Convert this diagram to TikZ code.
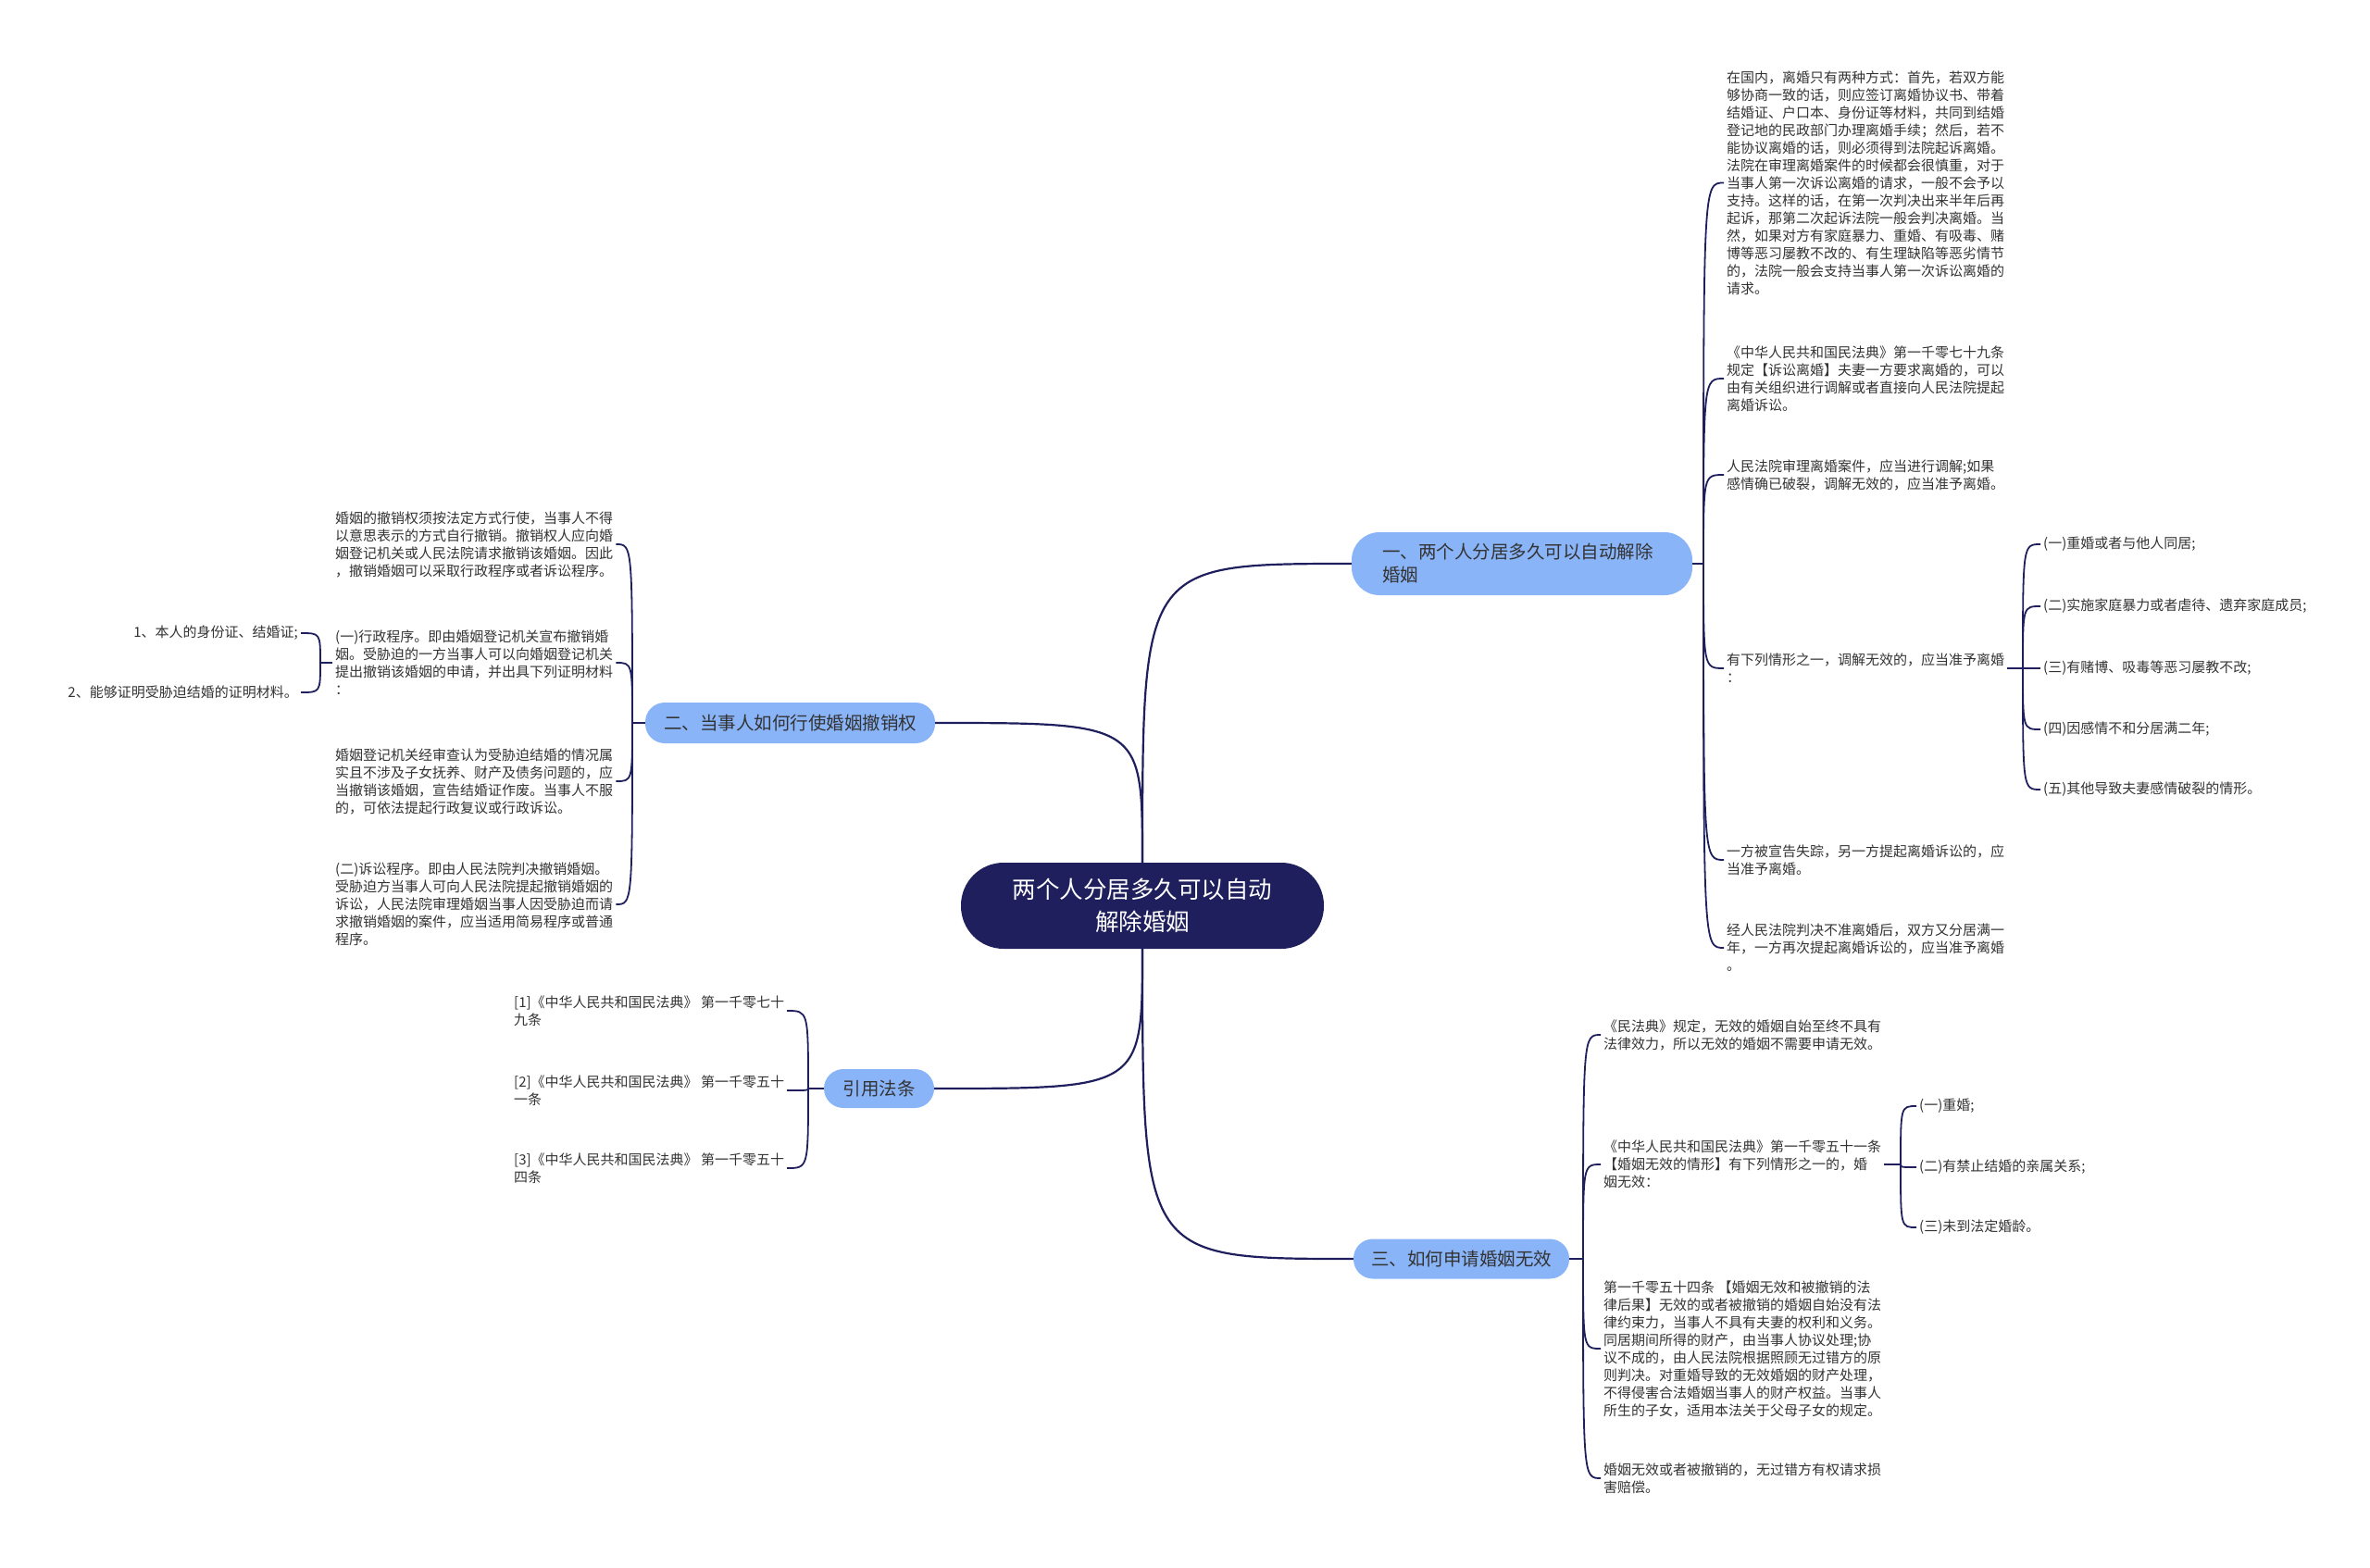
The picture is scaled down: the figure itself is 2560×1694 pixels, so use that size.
\documentclass[tikz,border=0pt]{standalone}
\usepackage{fontspec}
\setmainfont{Noto Sans CJK SC}
\usepackage{tikz}
\usetikzlibrary{positioning,calc}
\definecolor{navy}{RGB}{30,31,92}
\definecolor{topicblue}{RGB}{138,180,248}
\definecolor{leafgray}{RGB}{51,51,51}

\begin{document}
\begin{tikzpicture}[x=1pt,y=-1pt,
  rootbox/.style={fill=navy,rounded corners=46pt,minimum width=392pt,minimum height=93pt,
    text=white,align=center,inner sep=0pt,font=\fontsize{25.5}{35}\selectfont},
  topic/.style={fill=topicblue,rounded corners=21pt,minimum height=44pt,text=black!80,
    inner sep=0pt,font=\fontsize{19.5}{25}\selectfont},
  leaf/.style={text=leafgray,align=left,inner xsep=3pt,inner ysep=2pt,
    font=\fontsize{15}{19}\selectfont},
  link/.style={navy,line width=2.2pt},
  twig/.style={navy,line width=1.8pt}]
 \useasboundingbox (0,0) rectangle (2560,1694);
 % centre topic and the four branches
 \node[rootbox] (root) at (1234,978.5) {两个人分居多久可以自动\\解除婚姻};
 \node[topic,minimum width=368pt,minimum height=68pt,text width=302pt,inner xsep=33pt,
   align=left,rounded corners=30pt] (b1) at (1644,609) {一、两个人分居多久可以自动解除\\婚姻};
 \node[topic,minimum width=313pt] (b2) at (853.5,781) {二、当事人如何行使婚姻撤销权};
 \node[topic,minimum width=119pt,minimum height=42pt] (b3) at (949.5,1176) {引用法条};
 \node[topic,minimum width=233pt,minimum height=43pt] (b4) at (1578.5,1360) {三、如何申请婚姻无效};
 \draw[link] (root.north) .. controls (root.north |- b1.west) .. (b1.west);
 \draw[link] (root.north) .. controls (root.north |- b2.east) .. (b2.east);
 \draw[link] (root.south) .. controls (root.south |- b3.east) .. (b3.east);
 \draw[link] (root.south) .. controls (root.south |- b4.west) .. (b4.west);

 % branch one: the right upper side
 \node[leaf,anchor=west] (c11) at (1862,197.5) {在国内，离婚只有两种方式：首先，若双方能\\够协商一致的话，则应签订离婚协议书、带着\\结婚证、户口本、身份证等材料，共同到结婚\\登记地的民政部门办理离婚手续；然后，若不\\能协议离婚的话，则必须得到法院起诉离婚。\\法院在审理离婚案件的时候都会很慎重，对于\\当事人第一次诉讼离婚的请求，一般不会予以\\支持。这样的话，在第一次判决出来半年后再\\起诉，那第二次起诉法院一般会判决离婚。当\\然，如果对方有家庭暴力、重婚、有吸毒、赌\\博等恶习屡教不改的、有生理缺陷等恶劣情节\\的，法院一般会支持当事人第一次诉讼离婚的\\请求。};
 \node[leaf,anchor=west] (c12) at (1862,409) {《中华人民共和国民法典》第一千零七十九条\\规定【诉讼离婚】夫妻一方要求离婚的，可以\\由有关组织进行调解或者直接向人民法院提起\\离婚诉讼。};
 \node[leaf,anchor=west] (c13) at (1862,513) {人民法院审理离婚案件，应当进行调解;如果\\感情确已破裂，调解无效的，应当准予离婚。};
 \node[leaf,anchor=west] (c14) at (1862,722) {有下列情形之一，调解无效的，应当准予离婚\\：};
 \node[leaf,anchor=west] (c15) at (1862,929) {一方被宣告失踪，另一方提起离婚诉讼的，应\\当准予离婚。};
 \node[leaf,anchor=west] (c16) at (1862,1024) {经人民法院判决不准离婚后，双方又分居满一\\年，一方再次提起离婚诉讼的，应当准予离婚\\。};
 \coordinate (j1) at (1840,609);
 \draw[twig] (b1.east) -- (j1);
 \draw[twig] (j1) .. controls (j1 |- c11.west) .. (c11.west);
 \draw[twig] (j1) .. controls (j1 |- c12.west) .. (c12.west);
 \draw[twig] (j1) .. controls (j1 |- c13.west) .. (c13.west);
 \draw[twig] (j1) .. controls (j1 |- c14.west) .. (c14.west);
 \draw[twig] (j1) .. controls (j1 |- c15.west) .. (c15.west);
 \draw[twig] (j1) .. controls (j1 |- c16.west) .. (c16.west);
 % the five cases
 \node[leaf,anchor=west] (g11) at (2204,588) {(一)重婚或者与他人同居;};
 \node[leaf,anchor=west] (g12) at (2204,655) {(二)实施家庭暴力或者虐待、遗弃家庭成员;};
 \node[leaf,anchor=west] (g13) at (2204,722) {(三)有赌博、吸毒等恶习屡教不改;};
 \node[leaf,anchor=west] (g14) at (2204,788) {(四)因感情不和分居满二年;};
 \node[leaf,anchor=west] (g15) at (2204,853) {(五)其他导致夫妻感情破裂的情形。};
 \coordinate (j14) at (2185,722);
 \draw[twig] (c14.east) -- (j14);
 \draw[twig] (j14) .. controls (j14 |- g11.west) .. (g11.west);
 \draw[twig] (j14) .. controls (j14 |- g12.west) .. (g12.west);
 \draw[twig] (j14) -- (g13.west);
 \draw[twig] (j14) .. controls (j14 |- g14.west) .. (g14.west);
 \draw[twig] (j14) .. controls (j14 |- g15.west) .. (g15.west);

 % branch two: the left side
 \node[leaf,anchor=west] (c21) at (359,588) {婚姻的撤销权须按法定方式行使，当事人不得\\以意思表示的方式自行撤销。撤销权人应向婚\\姻登记机关或人民法院请求撤销该婚姻。因此\\，撤销婚姻可以采取行政程序或者诉讼程序。};
 \node[leaf,anchor=west] (c22) at (359,716) {(一)行政程序。即由婚姻登记机关宣布撤销婚\\姻。受胁迫的一方当事人可以向婚姻登记机关\\提出撤销该婚姻的申请，并出具下列证明材料\\：};
 \node[leaf,anchor=west] (c23) at (359,844) {婚姻登记机关经审查认为受胁迫结婚的情况属\\实且不涉及子女抚养、财产及债务问题的，应\\当撤销该婚姻，宣告结婚证作废。当事人不服\\的，可依法提起行政复议或行政诉讼。};
 \node[leaf,anchor=west] (c24) at (359,977) {(二)诉讼程序。即由人民法院判决撤销婚姻。\\受胁迫方当事人可向人民法院提起撤销婚姻的\\诉讼，人民法院审理婚姻当事人因受胁迫而请\\求撤销婚姻的案件，应当适用简易程序或普通\\程序。};
 \coordinate (j2) at (683,781);
 \draw[twig] (b2.west) -- (j2);
 \draw[twig] (j2) .. controls (j2 |- c21.east) .. (c21.east);
 \draw[twig] (j2) .. controls (j2 |- c22.east) .. (c22.east);
 \draw[twig] (j2) .. controls (j2 |- c23.east) .. (c23.east);
 \draw[twig] (j2) .. controls (j2 |- c24.east) .. (c24.east);
 % proofs to hand in
 \node[leaf,anchor=east,align=right] (g21) at (325,684) {1、本人的身份证、结婚证;};
 \node[leaf,anchor=east,align=right] (g22) at (325,748) {2、能够证明受胁迫结婚的证明材料。};
 \coordinate (j22) at (346,716);
 \draw[twig] (c22.west) -- (j22);
 \draw[twig] (j22) .. controls (j22 |- g21.east) .. (g21.east);
 \draw[twig] (j22) .. controls (j22 |- g22.east) .. (g22.east);

 % branch three: cited articles
 \node[leaf,anchor=west] (c31) at (552,1092) {[1]《中华人民共和国民法典》 第一千零七十\\九条};
 \node[leaf,anchor=west] (c32) at (552,1178) {[2]《中华人民共和国民法典》 第一千零五十\\一条};
 \node[leaf,anchor=west] (c33) at (552,1262) {[3]《中华人民共和国民法典》 第一千零五十\\四条};
 \coordinate (j3) at (873,1176);
 \draw[twig] (b3.west) -- (j3);
 \draw[twig] (j3) .. controls (j3 |- c31.east) .. (c31.east);
 \draw[twig] (j3) .. controls (j3 |- c32.east) .. (c32.east);
 \draw[twig] (j3) .. controls (j3 |- c33.east) .. (c33.east);

 % branch four: the right lower side
 \node[leaf,anchor=west] (c41) at (1729,1118) {《民法典》规定，无效的婚姻自始至终不具有\\法律效力，所以无效的婚姻不需要申请无效。};
 \node[leaf,anchor=west] (c42) at (1729,1258) {《中华人民共和国民法典》第一千零五十一条\\【婚姻无效的情形】有下列情形之一的，婚\\姻无效：};
 \node[leaf,anchor=west] (c43) at (1729,1457) {第一千零五十四条 【婚姻无效和被撤销的法\\律后果】无效的或者被撤销的婚姻自始没有法\\律约束力，当事人不具有夫妻的权利和义务。\\同居期间所得的财产，由当事人协议处理;协\\议不成的，由人民法院根据照顾无过错方的原\\则判决。对重婚导致的无效婚姻的财产处理，\\不得侵害合法婚姻当事人的财产权益。当事人\\所生的子女，适用本法关于父母子女的规定。};
 \node[leaf,anchor=west] (c44) at (1729,1597) {婚姻无效或者被撤销的，无过错方有权请求损\\害赔偿。};
 \coordinate (j4) at (1710,1360);
 \draw[twig] (b4.east) -- (j4);
 \draw[twig] (j4) .. controls (j4 |- c41.west) .. (c41.west);
 \draw[twig] (j4) .. controls (j4 |- c42.west) .. (c42.west);
 \draw[twig] (j4) .. controls (j4 |- c43.west) .. (c43.west);
 \draw[twig] (j4) .. controls (j4 |- c44.west) .. (c44.west);
 % void marriage cases
 \node[leaf,anchor=west] (g41) at (2070,1195) {(一)重婚;};
 \node[leaf,anchor=west] (g42) at (2070,1261) {(二)有禁止结婚的亲属关系;};
 \node[leaf,anchor=west] (g43) at (2070,1326) {(三)未到法定婚龄。};
 \coordinate (j42) at (2053,1258);
 \draw[twig] (c42.east) -- (j42);
 \draw[twig] (j42) .. controls (j42 |- g41.west) .. (g41.west);
 \draw[twig] (j42) .. controls (j42 |- g42.west) .. (g42.west);
 \draw[twig] (j42) .. controls (j42 |- g43.west) .. (g43.west);
\end{tikzpicture}
\end{document}
